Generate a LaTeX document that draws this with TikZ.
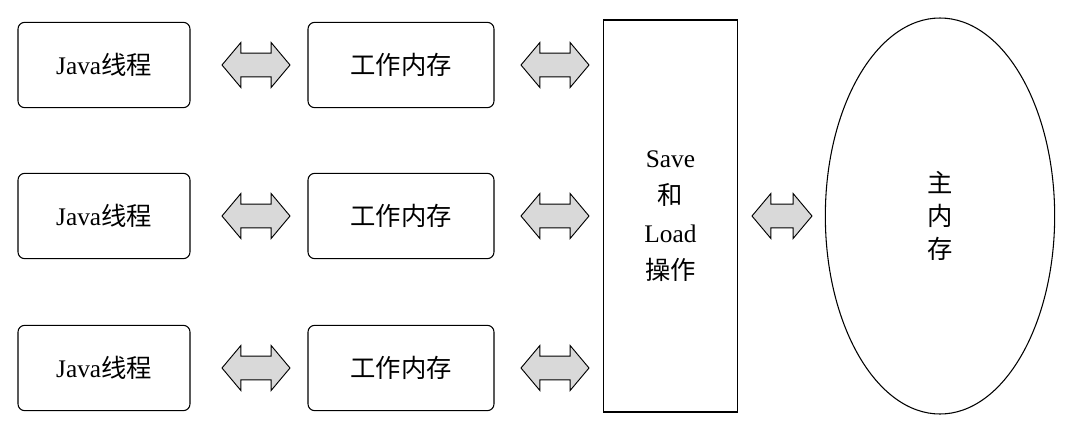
\documentclass[tikz,border=0pt]{standalone}
\usepackage{fontspec}
\setmainfont{Liberation Serif}
\newfontfamily\cjk{Noto Sans CJK SC}
\usetikzlibrary{shapes.geometric,shapes.arrows}
\begin{document}
\begin{tikzpicture}[x=0.75pt,y=-0.75pt,
  font=\fontsize{19}{22}\selectfont,
  rbox/.style={draw,rounded corners=5pt,line width=0.8pt,minimum height=64pt,inner sep=0},
  darr/.style={double arrow,draw,line width=0.7pt,fill=gray!30,inner xsep=0pt,inner ysep=8.5pt,
     double arrow head extend=8pt,minimum height=51pt,double arrow tip angle=100,text width=0pt}]
\useasboundingbox (0,0) rectangle (1072,433);
\foreach \i/\y in {1/65,2/216,3/368}{
  \node[rbox,minimum width=129pt] (j\i) at (104,\y) {Java{\cjk 线程}};
  \node[rbox,minimum width=139.5pt] (w\i) at (401,\y) {\cjk 工作内存};
  \node[darr] (a\i) at (256,\y) {};
  \node[darr] (b\i) at (555,\y) {};
}
\node[draw,line width=0.8pt,minimum width=100pt,minimum height=294pt,align=center,
  font=\fontsize{19}{28}\selectfont] (sl) at (670.5,216) {Save\\{\cjk 和}\\Load\\{\cjk 操作}};
\node[darr,minimum height=45pt] (c) at (782,216) {};
\node[draw,ellipse,line width=0.8pt,minimum width=172pt,minimum height=297pt,align=center,
  font=\fontsize{19}{25}\selectfont\cjk] (m) at (940,216) {主\\内\\存};
\end{tikzpicture}
\end{document}
